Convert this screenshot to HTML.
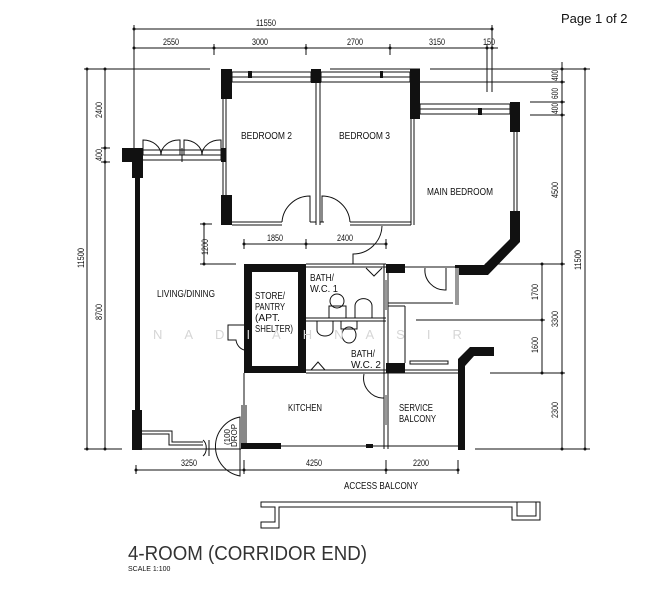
<!DOCTYPE html>
<html><head><meta charset="utf-8"><style>
html,body{margin:0;padding:0;background:#fff;}
svg{display:block;}
text{font-family:"Liberation Sans",sans-serif;fill:#111;}
</style></head><body>
<svg width="659" height="600" viewBox="0 0 659 600" xmlns="http://www.w3.org/2000/svg">
<g stroke="#111" stroke-width="1" fill="none">
<line x1="134" y1="29" x2="492" y2="29"/>
<line x1="134" y1="48" x2="498" y2="48"/>
<line x1="134" y1="25" x2="134" y2="150"/>
<line x1="214" y1="44" x2="214" y2="55"/>
<line x1="306" y1="44" x2="306" y2="55"/>
<line x1="390" y1="44" x2="390" y2="55"/>
<line x1="487" y1="44" x2="487" y2="92"/>
<line x1="492" y1="25" x2="492" y2="92"/>
<line x1="87" y1="69" x2="87" y2="449"/>
<line x1="105" y1="69" x2="105" y2="449"/>
<line x1="84" y1="69" x2="210" y2="69"/>
<line x1="101" y1="148" x2="110" y2="148"/>
<line x1="101" y1="162" x2="110" y2="162"/>
<line x1="84" y1="449" x2="122" y2="449"/>
<line x1="562" y1="62" x2="562" y2="449"/>
<line x1="585" y1="69" x2="585" y2="449"/>
<line x1="430" y1="69" x2="590" y2="69"/>
<line x1="420" y1="82" x2="565" y2="82"/>
<line x1="530" y1="102" x2="565" y2="102"/>
<line x1="530" y1="115" x2="565" y2="115"/>
<line x1="485" y1="264" x2="565" y2="264"/>
<line x1="542" y1="264" x2="542" y2="373"/>
<line x1="475" y1="320" x2="545" y2="320"/>
<line x1="490" y1="373" x2="565" y2="373"/>
<line x1="520" y1="449" x2="590" y2="449"/>
<line x1="244" y1="244" x2="386" y2="244"/>
<line x1="244" y1="239" x2="244" y2="249"/>
<line x1="306" y1="239" x2="306" y2="249"/>
<line x1="386" y1="239" x2="386" y2="249"/>
<line x1="204" y1="224" x2="204" y2="264"/>
<line x1="200" y1="224" x2="212" y2="224"/>
<line x1="200" y1="264" x2="236" y2="264"/>
<line x1="136" y1="470" x2="458" y2="470"/>
<line x1="136" y1="465" x2="136" y2="474"/>
<line x1="244" y1="460" x2="244" y2="474"/>
<line x1="386" y1="460" x2="386" y2="474"/>
<line x1="458" y1="460" x2="458" y2="474"/>
<line x1="475" y1="449" x2="520" y2="449"/>
</g>
<g fill="#111">
<circle cx="134" cy="29" r="1.5"/><circle cx="492" cy="29" r="1.5"/>
<circle cx="134" cy="48" r="1.5"/><circle cx="214" cy="48" r="1.5"/><circle cx="306" cy="48" r="1.5"/><circle cx="390" cy="48" r="1.5"/><circle cx="487" cy="48" r="1.5"/><circle cx="492" cy="48" r="1.5"/>
<circle cx="87" cy="69" r="1.5"/><circle cx="87" cy="449" r="1.5"/><circle cx="105" cy="69" r="1.5"/><circle cx="105" cy="148" r="1.5"/><circle cx="105" cy="162" r="1.5"/><circle cx="105" cy="449" r="1.5"/>
<circle cx="562" cy="69" r="1.5"/><circle cx="562" cy="82" r="1.5"/><circle cx="562" cy="102" r="1.5"/><circle cx="562" cy="115" r="1.5"/><circle cx="562" cy="264" r="1.5"/><circle cx="562" cy="373" r="1.5"/><circle cx="562" cy="449" r="1.5"/>
<circle cx="585" cy="69" r="1.5"/><circle cx="585" cy="449" r="1.5"/>
<circle cx="542" cy="264" r="1.5"/><circle cx="542" cy="320" r="1.5"/><circle cx="542" cy="373" r="1.5"/>
<circle cx="204" cy="224" r="1.5"/><circle cx="204" cy="264" r="1.5"/>
<circle cx="244" cy="244" r="1.5"/><circle cx="306" cy="244" r="1.5"/><circle cx="386" cy="244" r="1.5"/>
<circle cx="136" cy="470" r="1.5"/><circle cx="244" cy="470" r="1.5"/><circle cx="386" cy="470" r="1.5"/><circle cx="458" cy="470" r="1.5"/>
</g>

<g fill="#111">
<rect x="221" y="69" width="11" height="30"/>
<rect x="311" y="69" width="10" height="14"/>
<rect x="410" y="69" width="10" height="50"/>
<rect x="510" y="102" width="10" height="30"/>
<rect x="248" y="71" width="4" height="7"/>
<rect x="380" y="71" width="3" height="7"/>
<rect x="478" y="108" width="4" height="7"/>
<rect x="221" y="195" width="11" height="30"/>
<rect x="122" y="148" width="20" height="14"/>
<rect x="132" y="148" width="11" height="30"/>
<rect x="135" y="178" width="5" height="234"/>
<rect x="132" y="410" width="10" height="40"/>
<rect x="221" y="148" width="5" height="14"/>
<polygon points="510,211 520,211 520,242 488,275 455,275 455,265 484,265 510,239"/>
<polygon points="458,450 465,450 465,366 474,356 494,356 494,347 470,347 458,359"/>
<path d="M244,264H306V373H244Z M252,272V366H298V272Z" fill-rule="evenodd"/>
<rect x="386" y="264" width="19" height="9"/>
<rect x="386" y="363" width="19" height="10"/>
<rect x="241" y="443" width="40" height="6"/>
<rect x="366" y="444" width="7" height="4"/>
</g>
<g stroke="#111" stroke-width="1" fill="none">
<rect x="232" y="72" width="79" height="10"/>
<line x1="232" y1="77" x2="311" y2="77"/>
<rect x="321" y="72" width="89" height="10"/>
<line x1="321" y1="77" x2="410" y2="77"/>
<rect x="420" y="104" width="90" height="10"/>
<line x1="420" y1="109" x2="510" y2="109"/>
<line x1="330" y1="69" x2="420" y2="69"/>
<line x1="430" y1="82" x2="530" y2="82"/>
<line x1="223" y1="99" x2="223" y2="195"/><line x1="226" y1="99" x2="226" y2="195"/>
<line x1="316" y1="83" x2="316" y2="225"/><line x1="320" y1="83" x2="320" y2="225"/>
<line x1="411" y1="119" x2="411" y2="225"/><line x1="414" y1="119" x2="414" y2="225"/>
<line x1="514" y1="132" x2="514" y2="211"/><line x1="517" y1="132" x2="517" y2="211"/>
<line x1="232" y1="222" x2="282" y2="222"/><line x1="232" y1="225" x2="282" y2="225"/>
<line x1="350" y1="222" x2="411" y2="222"/><line x1="350" y1="225" x2="411" y2="225"/>
<line x1="310" y1="222" x2="316" y2="222"/><line x1="320" y1="222" x2="324" y2="222"/>
<path d="M282,222 A28,28 0 0 1 310,196 L310,222"/>
<path d="M350,222 A28,28 0 0 0 322,196 L322,222"/>
<path d="M382,226 A29,29 0 0 1 353,254 L353,264"/>
<rect x="142" y="150" width="79" height="10"/>
<line x1="142" y1="155" x2="221" y2="155"/>
<line x1="182" y1="148" x2="182" y2="162"/>
<path d="M143,155 V140 A18,15 0 0 1 161,155"/>
<path d="M161,155 A18,15 0 0 1 180,140 V155"/>
<path d="M184,155 V140 A18,15 0 0 1 202,155"/>
<path d="M202,155 A18,15 0 0 1 221,140 V155"/>
<line x1="306" y1="264" x2="386" y2="264"/><line x1="306" y1="267" x2="386" y2="267"/>
<line x1="306" y1="318" x2="386" y2="318"/><line x1="306" y1="321" x2="386" y2="321"/>
<line x1="306" y1="373" x2="386" y2="373"/><line x1="306" y1="370" x2="386" y2="370"/>
<line x1="384" y1="264" x2="384" y2="449"/><line x1="388" y1="264" x2="388" y2="449"/>
<path d="M366,268 L374,276 L382,268"/>
<path d="M311,370 L318,362 L325,370"/>
<ellipse cx="337" cy="301" rx="7" ry="7"/><rect x="329" y="306" width="17" height="12"/>
<path d="M355,318 V306 A8,7 0 0 1 372,306 V318"/>
<ellipse cx="349" cy="335" rx="7" ry="8"/><rect x="341" y="321" width="16" height="8"/>
<path d="M317,321 V330 A8,6 0 0 0 333,330 V321"/>
<line x1="405" y1="267" x2="455" y2="267"/>
<line x1="388" y1="303" x2="453" y2="303"/>
<path d="M425,268 A20,20 0 0 0 446,290 V268" />
<line x1="416" y1="320" x2="500" y2="320"/>
<line x1="388" y1="306" x2="405" y2="306"/><line x1="405" y1="306" x2="405" y2="363"/>
<rect x="410" y="361" width="38" height="3"/>
<line x1="405" y1="370" x2="458" y2="370"/>
<path d="M244,325 H228 V340 H236 A12,12 0 0 0 244,350"/>
<line x1="244" y1="373" x2="244" y2="445"/>
<line x1="242" y1="405" x2="242" y2="445"/><line x1="246" y1="405" x2="246" y2="445"/>
<line x1="281" y1="446" x2="458" y2="446"/>
<path d="M364,374 A20,20 0 0 0 384,398"/>
<line x1="386" y1="373" x2="458" y2="373"/>
<path d="M142,431 H172 V442 H203 M142,434 H169 V445 H203"/>
<line x1="142" y1="449" x2="241" y2="449"/>
<path d="M203,440 A6,9 0 0 1 203,456 M209,440 V456"/>
<path d="M240,417 A30,30 0 0 0 240,476 Z"/>
<path d="M261,502 H540 V520 H512 V507 H279 V528 H261 V522 H275 V507 H261 Z"/>
<path d="M517,502 V516 H536 V502"/>
</g>
<g fill="#999"><rect x="385" y="280" width="2" height="30"/><rect x="455" y="268" width="4" height="37"/><rect x="385" y="395" width="2" height="30"/></g>

<g font-size="10.5">
<text x="241" y="139" textLength="51" lengthAdjust="spacingAndGlyphs">BEDROOM 2</text>
<text x="339" y="139" textLength="51" lengthAdjust="spacingAndGlyphs">BEDROOM 3</text>
<text x="427" y="195" textLength="66" lengthAdjust="spacingAndGlyphs">MAIN BEDROOM</text>
<text x="157" y="297" textLength="58" lengthAdjust="spacingAndGlyphs">LIVING/DINING</text>
<text x="255" y="299" textLength="30" lengthAdjust="spacingAndGlyphs">STORE/</text>
<text x="255" y="310" textLength="30" lengthAdjust="spacingAndGlyphs">PANTRY</text>
<text x="255" y="321" textLength="25" lengthAdjust="spacingAndGlyphs">(APT.</text>
<text x="255" y="332" textLength="38" lengthAdjust="spacingAndGlyphs">SHELTER)</text>
<text x="310" y="281" textLength="24" lengthAdjust="spacingAndGlyphs">BATH/</text>
<text x="310" y="292" textLength="28" lengthAdjust="spacingAndGlyphs">W.C.  1</text>
<text x="351" y="357" textLength="24" lengthAdjust="spacingAndGlyphs">BATH/</text>
<text x="351" y="368" textLength="30" lengthAdjust="spacingAndGlyphs">W.C.  2</text>
<text x="288" y="411" textLength="34" lengthAdjust="spacingAndGlyphs">KITCHEN</text>
<text x="399" y="411" textLength="34" lengthAdjust="spacingAndGlyphs">SERVICE</text>
<text x="399" y="422" textLength="37" lengthAdjust="spacingAndGlyphs">BALCONY</text>
<text x="344" y="489" textLength="74" lengthAdjust="spacingAndGlyphs">ACCESS BALCONY</text>
</g>
<g font-size="9">
<text x="256" y="26" textLength="20" lengthAdjust="spacingAndGlyphs">11550</text>
<text x="163" y="45" textLength="16" lengthAdjust="spacingAndGlyphs">2550</text>
<text x="252" y="45" textLength="16" lengthAdjust="spacingAndGlyphs">3000</text>
<text x="347" y="45" textLength="16" lengthAdjust="spacingAndGlyphs">2700</text>
<text x="429" y="45" textLength="16" lengthAdjust="spacingAndGlyphs">3150</text>
<text x="483" y="45" textLength="12" lengthAdjust="spacingAndGlyphs">150</text>
<text x="267" y="241" textLength="16" lengthAdjust="spacingAndGlyphs">1850</text>
<text x="337" y="241" textLength="16" lengthAdjust="spacingAndGlyphs">2400</text>
<text x="181" y="466" textLength="16" lengthAdjust="spacingAndGlyphs">3250</text>
<text x="306" y="466" textLength="16" lengthAdjust="spacingAndGlyphs">4250</text>
<text x="413" y="466" textLength="16" lengthAdjust="spacingAndGlyphs">2200</text>
<text transform="translate(84,268) rotate(-90)" textLength="20" lengthAdjust="spacingAndGlyphs">11500</text>
<text transform="translate(102,118) rotate(-90)" textLength="16" lengthAdjust="spacingAndGlyphs">2400</text>
<text transform="translate(102,161) rotate(-90)" textLength="12" lengthAdjust="spacingAndGlyphs">400</text>
<text transform="translate(102,320) rotate(-90)" textLength="16" lengthAdjust="spacingAndGlyphs">8700</text>
<text transform="translate(208,255) rotate(-90)" textLength="16" lengthAdjust="spacingAndGlyphs">1200</text>
<text transform="translate(558,81) rotate(-90)" textLength="11" lengthAdjust="spacingAndGlyphs">400</text>
<text transform="translate(558,99) rotate(-90)" textLength="11" lengthAdjust="spacingAndGlyphs">600</text>
<text transform="translate(558,114) rotate(-90)" textLength="11" lengthAdjust="spacingAndGlyphs">400</text>
<text transform="translate(558,198) rotate(-90)" textLength="16" lengthAdjust="spacingAndGlyphs">4500</text>
<text transform="translate(558,327) rotate(-90)" textLength="16" lengthAdjust="spacingAndGlyphs">3300</text>
<text transform="translate(558,418) rotate(-90)" textLength="16" lengthAdjust="spacingAndGlyphs">2300</text>
<text transform="translate(538,300) rotate(-90)" textLength="16" lengthAdjust="spacingAndGlyphs">1700</text>
<text transform="translate(538,353) rotate(-90)" textLength="16" lengthAdjust="spacingAndGlyphs">1600</text>
<text transform="translate(581,270) rotate(-90)" textLength="20" lengthAdjust="spacingAndGlyphs">11500</text>
<text transform="translate(230,445) rotate(-90)" font-size="8">(100</text>
<text transform="translate(237,447) rotate(-90)" font-size="8">DROP</text>
</g>
<text x="153" y="339" font-size="13" style="fill:#d6d6d6" letter-spacing="22">NADIAHNASIR</text>
<text x="128" y="560" font-size="20" textLength="239" lengthAdjust="spacingAndGlyphs" style="fill:#333">4-ROOM (CORRIDOR END)</text>
<text x="128" y="571" font-size="7">SCALE   1:100</text>
<text x="561" y="23" font-size="13">Page 1 of 2</text>
</svg>
</body></html>
